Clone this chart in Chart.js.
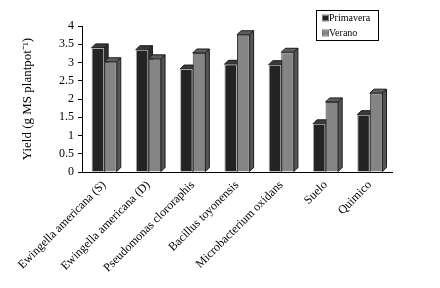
<!DOCTYPE html>
<html>
<head>
<meta charset="utf-8">
<script src="https://cdn.jsdelivr.net/npm/chart.js@4"></script>
<style>
  html, body { margin: 0; padding: 0; background: #fff; }
  #wrap { width: 440px; height: 288px; }
</style>
</head>
<body>
<div id="wrap"><canvas id="chart" width="440" height="288"></canvas></div>
<script>
// Data
const categories = ['Ewingella americana (S)', 'Ewingella americana (D)', 'Pseudomonas clororaphis', 'Bacillus toyonensis', 'Microbacterium oxidans', 'Suelo', 'Quimico'];
const primavera = [3.40, 3.35, 2.82, 2.95, 2.94, 1.32, 1.57];
const verano = [3.02, 3.10, 3.26, 3.76, 3.28, 1.92, 2.16];
const yTicks = [0, 0.5, 1, 1.5, 2, 2.5, 3, 3.5, 4];

const FONT = "'Liberation Serif', 'Times New Roman', serif";

// Fake 3D depth: top and side faces drawn behind the front faces
const depth3d = {
    id: 'depth3d',
    beforeDatasetsDraw(chart, args, opts) {
        const ctx = chart.ctx;
        const d = opts.depth;
        chart.data.datasets.forEach((ds, i) => {
            const meta = chart.getDatasetMeta(i);
            meta.data.forEach(bar => {
                const {x, y, base, width} = bar.getProps(['x', 'y', 'base', 'width'], true);
                const l = x - width / 2, r = x + width / 2;
                ctx.save();
                ctx.lineWidth = 1;
                ctx.strokeStyle = opts.stroke;
                // top face
                ctx.beginPath();
                ctx.moveTo(l, y);
                ctx.lineTo(l + d, y - d);
                ctx.lineTo(r + d, y - d);
                ctx.lineTo(r, y);
                ctx.closePath();
                ctx.fillStyle = ds.topColor;
                ctx.fill();
                ctx.stroke();
                // side face
                ctx.beginPath();
                ctx.moveTo(r, y);
                ctx.lineTo(r + d, y - d);
                ctx.lineTo(r + d, base - d);
                ctx.lineTo(r, base);
                ctx.closePath();
                ctx.fillStyle = ds.sideColor;
                ctx.fill();
                ctx.stroke();
                ctx.restore();
            });
        });
    }
};

// Boxed legend placed over the top right of the plot
const boxLegend = {
    id: 'boxLegend',
    afterDraw(chart, args, opts) {
        const ctx = chart.ctx;
        ctx.save();
        ctx.strokeStyle = '#000';
        ctx.lineWidth = 1;
        ctx.strokeRect(opts.x + 0.5, opts.y + 0.5, opts.w, opts.h);
        ctx.font = opts.fontSize + 'px ' + FONT;
        ctx.textBaseline = 'middle';
        chart.data.datasets.forEach((ds, i) => {
            const cy = opts.y + opts.first + i * opts.step;
            ctx.fillStyle = ds.backgroundColor;
            ctx.fillRect(opts.x + 7, cy - 2.5, 5, 5);
            ctx.strokeStyle = '#777';
            ctx.strokeRect(opts.x + 6.5, cy - 3, 6, 6);
            ctx.fillStyle = '#000';
            ctx.fillText(ds.label, opts.x + 13, cy);
        });
        ctx.restore();
    }
};

new Chart(document.getElementById('chart'), {
    type: 'bar',
    data: {
        labels: categories,
        datasets: [
            {
                label: 'Primavera',
                data: primavera,
                backgroundColor: '#232323',
                topColor: '#3a3a3a',
                sideColor: '#2e2e2e',
                borderColor: '#a8a8a8',
                borderWidth: 1
            },
            {
                label: 'Verano',
                data: verano,
                backgroundColor: '#858585',
                topColor: '#5e5e5e',
                sideColor: '#555555',
                borderColor: '#3a3a3a',
                borderWidth: 1
            }
        ]
    },
    options: {
        responsive: false,
        animation: false,
        devicePixelRatio: 1,
        categoryPercentage: 0.57,
        barPercentage: 1,
        layout: { padding: { left: 0, right: 48, top: 26, bottom: 0 } },
        plugins: {
            legend: { display: false },
            tooltip: { enabled: false },
            depth3d: { depth: 4, stroke: '#1a1a1a' },
            boxLegend: { x: 316, y: 10, w: 62, h: 30, first: 8, step: 15, fontSize: 10 }
        },
        scales: {
            x: {
                afterFit: s => { s.height = 116; },
                grid: { display: false, drawOnChartArea: false, drawTicks: true, tickLength: 4, offset: true },
                border: { display: true, color: '#000', width: 1 },
                ticks: {
                    color: '#000',
                    font: { family: FONT, size: 12 },
                    minRotation: 45,
                    maxRotation: 45,
                    padding: 2,
                    autoSkip: false
                }
            },
            y: {
                min: 0,
                max: 4,
                afterFit: s => { s.width = 82; },
                afterBuildTicks: s => { s.ticks = yTicks.map(v => ({ value: v })); },
                grid: { display: true, drawOnChartArea: false, drawTicks: true, tickLength: 4, color: '#000' },
                border: { display: true, color: '#000', width: 1 },
                ticks: {
                    color: '#000',
                    font: { family: FONT, size: 12 },
                    padding: 4,
                    callback: v => String(v)
                },
                title: {
                    display: true,
                    text: 'Yield (g MS plantpot\u207B\u00B9)',
                    color: '#000',
                    font: { family: FONT, size: 13 },
                    padding: { top: 20, bottom: 0 }
                }
            }
        }
    },
    plugins: [depth3d, boxLegend]
});
</script>
</body>
</html>
